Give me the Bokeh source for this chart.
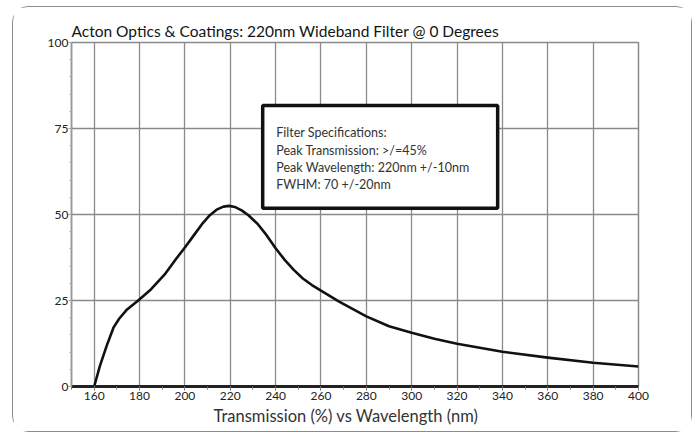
from bokeh.plotting import figure
from bokeh.models import Range1d, FixedTicker, Label, BoxAnnotation, Title
from bokeh.embed import file_html
from bokeh.resources import INLINE

# Data
wavelength = [160, 162.5, 165.5, 168.5, 171, 174.5, 179, 185, 191, 196, 200, 204, 208,
              211, 214, 217, 219.5, 222, 225, 228, 232, 236, 240, 244, 248, 252, 256,
              260, 268, 280, 290, 300, 310, 320, 340, 360, 380, 400]
transmission = [0, 5.9, 11.8, 17.1, 19.7, 22.4, 24.8, 28.2, 32.5, 37.0, 40.4, 44.0, 47.6,
                49.8, 51.4, 52.3, 52.5, 52.2, 51.2, 49.8, 47.3, 44.0, 40.2, 36.8, 33.9,
                31.4, 29.5, 27.9, 24.7, 20.4, 17.5, 15.6, 13.9, 12.4, 10.1, 8.4, 6.9, 5.8]
x_ticks = [160, 180, 200, 220, 240, 260, 280, 300, 320, 340, 360, 380, 400]
y_ticks = [0, 25, 50, 75, 100]
title_text = "Acton Optics & Coatings: 220nm Wideband Filter @ 0 Degrees"
x_label = "Transmission (%) vs Wavelength (nm)"
spec_lines = ["Filter Specifications:",
              "Peak Transmission: >/=45%",
              "Peak Wavelength: 220nm +/-10nm",
              "FWHM: 70 +/-20nm"]
spec_box = dict(left=234.3, right=337.9, bottom=51.8, top=81.7)

FONT = "Lato"

p = figure(width=680, height=426, output_backend="svg", toolbar_location=None,
           x_range=Range1d(150, 400), y_range=Range1d(0, 100),
           min_border_left=58, min_border_right=55, min_border_top=35,
           min_border_bottom=47, background_fill_color="white",
           border_fill_color="white")
p.styles = {"margin-left": "12px", "margin-top": "6px",
            "border": "1.5px solid #8c8c8c", "border-radius": "16px"}

p.title.text = title_text
p.title.align = "left"
p.title.text_font = FONT
p.title.text_font_size = "15.5px"
p.title.text_font_style = "normal"
p.title.text_color = "#141414"
p.title.standoff = 6

p.outline_line_color = "#8a8a8a"
p.outline_line_width = 1.5

# grid
p.xgrid.ticker = FixedTicker(ticks=x_ticks)
p.ygrid.ticker = FixedTicker(ticks=y_ticks)
p.grid.grid_line_color = "#8a8a8a"
p.grid.grid_line_width = 1.3
p.grid.grid_line_alpha = 1.0

# x axis
p.xaxis.ticker = FixedTicker(ticks=x_ticks, minor_ticks=list(range(150, 401, 10)))
p.xaxis.axis_line_color = "#222222"
p.xaxis.axis_line_width = 3
p.xaxis.major_tick_line_color = "#777777"
p.xaxis.minor_tick_line_color = "#777777"
p.xaxis.major_tick_in = 0
p.xaxis.major_tick_out = 4
p.xaxis.minor_tick_in = 0
p.xaxis.minor_tick_out = 3
p.xaxis.major_label_standoff = 1
p.xaxis.major_label_text_font = FONT
p.xaxis.major_label_text_font_size = "12px"
p.xaxis.major_label_text_color = "#222222"

# x axis title (left-offset like the reference)
p.add_layout(Title(text=x_label, align="left", offset=142, standoff=3,
                   text_font=FONT, text_font_size="16.5px",
                   text_font_style="normal", text_color="#333333"), "below")

# y axis
p.yaxis.ticker = FixedTicker(ticks=y_ticks, minor_ticks=list(range(0, 101, 5)))
p.yaxis.axis_line_color = "#999999"
p.yaxis.axis_line_width = 1.5
p.yaxis.major_tick_line_color = "#999999"
p.yaxis.minor_tick_line_color = "#aaaaaa"
p.yaxis.major_tick_in = 0
p.yaxis.major_tick_out = 3
p.yaxis.minor_tick_in = 0
p.yaxis.minor_tick_out = 2
p.yaxis.major_label_standoff = 0
p.yaxis.major_label_text_font = FONT
p.yaxis.major_label_text_font_size = "12px"
p.yaxis.major_label_text_color = "#222222"

# curve
p.line(wavelength, transmission, line_color="#111111", line_width=2.6,
       line_join="round")

# spec box
p.add_layout(BoxAnnotation(left=spec_box["left"], right=spec_box["right"],
                           bottom=spec_box["bottom"], top=spec_box["top"],
                           fill_color="white", fill_alpha=1.0,
                           line_color="#111111", line_alpha=1.0, line_width=3.5,
                           level="overlay"))
text_x = 240.3
line_y0 = 73.7
for i, t in enumerate(spec_lines):
    p.add_layout(Label(x=text_x, y=line_y0 - i * 5.0, text=t, text_font=FONT,
                       text_font_size="12.5px", text_color="#333333",
                       text_baseline="middle", level="overlay"))

open("out.html", "w").write(file_html(p, INLINE))
